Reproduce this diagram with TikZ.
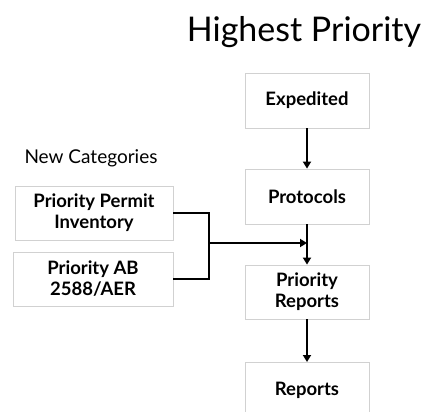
\documentclass[tikz,border=0pt]{standalone}
\usepackage{fontspec}
\setmainfont{Lato}
\usetikzlibrary{arrows.meta}
\tikzset{
  box/.style={draw=black!18, line width=0.8pt, fill=white, align=center, font=\bfseries\fontsize{18.5}{21}\selectfont, inner sep=0pt},
  conn/.style={line width=2.8pt, draw=black},
  arr/.style={conn, -{Triangle[length=7pt,width=8pt]}}
}
\begin{document}
\begin{tikzpicture}[x=1pt,y=-1pt]
\useasboundingbox (0,0) rectangle (429,412);
\node[anchor=center, font=\fontsize{34}{37}\selectfont] (title) at (304,32) {Highest Priority};
\node[anchor=center, font=\fontsize{19}{22}\selectfont] (newcat) at (91,158) {New Categories};
\node[box, minimum width=124pt, minimum height=55pt] (exp) at (307,100.5) {Expedited};
\node[box, minimum width=124pt, minimum height=55pt] (prot) at (307,196.5) {Protocols};
\node[box, minimum width=124pt, minimum height=54pt] (prep) at (307,292) {Priority\\Reports};
\node[box, minimum width=124pt, minimum height=55pt, anchor=north] (rep) at (307,362) {Reports};
\node[box, minimum width=158pt, minimum height=54pt] (ppi) at (94,213) {Priority Permit\\Inventory};
\node[box, minimum width=160pt, minimum height=54pt] (pab) at (93,279) {Priority AB\\2588/AER};
\coordinate (j1) at (209,213);
\coordinate (j2) at (209,279);
\coordinate (jm) at (209,243);
\coordinate (tip) at (307,243);
\draw[arr] (exp.south) -- (prot.north);
\draw[arr] (prot.south) -- (prep.north);
\draw[arr] (prep.south) -- (rep.north);
\draw[conn] (ppi.east) -- (j1) -- (j2) -- (pab.east);
\draw[arr] (jm) -- (tip);
\end{tikzpicture}
\end{document}
